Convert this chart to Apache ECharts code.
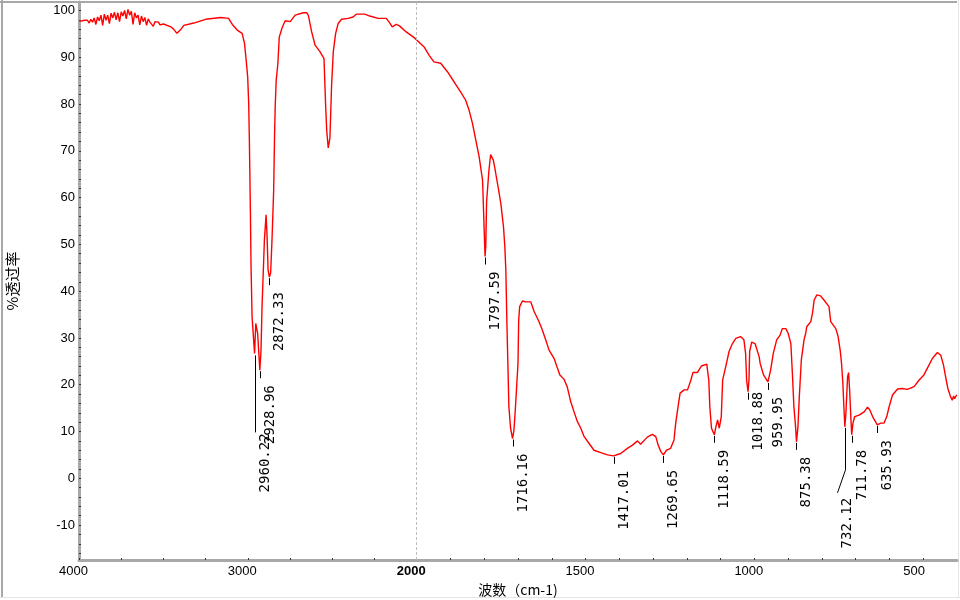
<!DOCTYPE html>
<html>
<head>
<meta charset="utf-8">
<title>IR</title>
<script src="https://cdn.jsdelivr.net/npm/echarts@6/dist/echarts.min.js"></script>
<style>
  html, body { margin: 0; padding: 0; background: #fff; }
  #chart { width: 960px; height: 600px; }
</style>
</head>
<body>
<div id="chart"></div>
<script>
// 光谱数据：波数 / 透过率
const waveNumbers = [
  4000, 3985, 3970, 3960, 3950, 3940, 3930, 3920, 3910, 3900, 3890, 3880, 3870, 3860, 3850, 3840,
  3830, 3820, 3810, 3800, 3790, 3780, 3770, 3760, 3750, 3740, 3730, 3720, 3710, 3700, 3690, 3680,
  3670, 3660, 3650, 3640, 3630, 3620, 3610, 3600, 3590, 3580, 3570, 3560, 3550, 3540, 3530, 3520,
  3510, 3500, 3456, 3440, 3420, 3400, 3379, 3320, 3250, 3161, 3114, 3092, 3063, 3034, 3020, 3010,
  3001, 2995, 2991, 2985, 2981, 2975, 2960.22, 2953, 2942, 2928.96, 2922, 2916, 2902, 2892, 2886, 2880,
  2872.33, 2865, 2857, 2847, 2842, 2838, 2832, 2822, 2814, 2798, 2779, 2749, 2720, 2671, 2651, 2642,
  2622, 2602, 2573, 2549, 2539, 2533, 2524, 2514, 2504, 2494, 2480, 2465, 2445, 2406, 2377, 2357,
  2308, 2278, 2229, 2180, 2161, 2145, 2121, 2102, 2062, 2023, 2000,
  1978, 1963, 1949, 1929, 1909, 1889, 1870, 1855, 1845, 1835, 1825, 1815, 1805, 1803, 1800, 1797.59,
  1795.5, 1793, 1786, 1781, 1773, 1766, 1759, 1751, 1743, 1739, 1736, 1733, 1730, 1727, 1722, 1716.16,
  1712, 1708, 1704, 1700, 1698, 1695, 1687, 1677, 1662, 1652, 1638, 1628, 1618, 1608, 1593, 1583,
  1576, 1564, 1554, 1544, 1534, 1524, 1514, 1504, 1490, 1475, 1455, 1435, 1417.01, 1396, 1376, 1361,
  1346, 1337, 1317, 1302, 1292, 1285, 1277, 1269.65, 1260, 1248, 1238, 1233, 1226, 1220, 1208, 1198,
  1188, 1182, 1169, 1157, 1141, 1135, 1132, 1127, 1118.59, 1114, 1109, 1104, 1098, 1094, 1085, 1075,
  1065, 1055, 1041, 1031, 1026, 1023, 1018.88, 1016, 1014, 1008, 998, 986, 983, 973, 959.95, 952,
  944, 934, 924, 917, 907, 900, 892, 887, 883, 878, 875.38, 871, 867, 861, 853, 848,
  845, 833, 828, 823, 815, 804, 794, 779, 774, 759, 752, 746, 742, 738, 735, 732.12,
  729, 724, 721, 718, 714, 711.78, 708, 703, 690, 675, 665, 658, 650, 635.93, 626, 616,
  608, 601, 591, 576, 562, 547, 527, 512, 498, 488, 473, 458, 448, 440, 433, 427,
  419, 414, 410, 407, 403, 400
];
const transmittance = [
  97.8, 97.7, 97.9, 97.6, 97.9, 97.3, 98.1, 97.5, 98.4, 97.0, 98.6, 97.8, 99.0, 96.8, 99.2, 97.9,
  99.0, 97.2, 99.4, 98.4, 99.6, 98.0, 99.5, 97.6, 99.7, 98.8, 100.0, 98.2, 100.2, 99.0, 99.8, 97.0,
  99.5, 98.4, 99.0, 96.9, 98.8, 97.6, 98.5, 96.8, 98.2, 97.5, 97.9, 96.6, 97.6, 97.2, 97.5, 96.9,
  97.2, 97.1, 96.5, 96.0, 95.1, 95.8, 96.8, 97.3, 98.1, 98.5, 98.3, 97.0, 95.8, 95.1, 93.0, 89.4,
  85.8, 80.2, 72.3, 57.3, 45.2, 34.5, 26.7, 33.1, 31.0, 23.1, 27.4, 36.6, 50.9, 56.3, 51.6, 44.5,
  43.0, 43.9, 50.9, 61.6, 72.9, 79.4, 85.1, 88.7, 94.3, 96.2, 97.8, 97.6, 99.0, 99.5, 99.5, 99.0,
  95.4, 92.6, 91.2, 89.7, 79.4, 74.4, 70.6, 72.7, 84.0, 91.2, 95.1, 97.2, 98.1, 98.3, 98.6, 99.2,
  99.2, 98.8, 98.3, 98.3, 97.4, 96.5, 97.0, 96.7, 95.4, 94.4, 93.7,
  92.2, 90.4, 89.0, 88.7, 86.9, 84.7, 82.6, 80.8, 78.7, 75.9, 72.3, 68.7, 63.7, 59.5, 52.7, 47.4,
  49.5, 59.1, 65.9, 69.2, 68.0, 65.2, 62.3, 58.8, 53.8, 49.5, 44.5, 33.5, 24.6, 15.3, 10.7, 8.5,
  10.3, 14.6, 19.6, 24.6, 33.8, 36.7, 37.9, 37.7, 37.7, 35.6, 33.5, 31.7, 29.6, 27.4, 25.6, 23.5,
  22.1, 21.2, 19.5, 16.4, 14.2, 12.1, 10.7, 8.9, 7.5, 6.0, 5.5, 5.0, 4.8, 5.3, 6.4, 7.1,
  8.0, 7.3, 8.8, 9.4, 8.9, 7.1, 5.7, 5.0, 6.0, 6.4, 8.2, 11.8, 15.3, 18.2, 18.9, 18.9,
  21.0, 22.6, 22.6, 24.0, 24.4, 21.0, 15.3, 10.7, 9.3, 11.0, 12.5, 10.7, 13.2, 21.0, 23.8, 27.1,
  28.8, 29.9, 30.3, 29.6, 26.7, 21.0, 18.5, 21.0, 27.1, 29.1, 28.8, 26.0, 24.6, 22.1, 20.6, 23.1,
  26.7, 29.6, 30.6, 32.0, 32.0, 31.0, 28.8, 21.7, 15.3, 11.0, 7.8, 11.0, 17.4, 25.3, 29.6, 31.0,
  32.4, 33.5, 35.3, 38.1, 39.2, 39.0, 38.1, 36.7, 33.5, 32.0, 30.3, 27.4, 24.6, 20.3, 15.3, 11.0,
  13.9, 21.7, 22.6, 18.9, 12.5, 9.3, 11.8, 13.2, 13.5, 14.2, 15.2, 14.6, 13.2, 11.4, 11.8, 11.8,
  13.2, 15.3, 17.8, 19.1, 19.2, 19.0, 19.6, 21.0, 22.1, 23.5, 25.6, 26.9, 26.3, 24.2, 21.4, 19.2,
  17.4, 16.7, 17.6, 17.0, 17.6, 17.8
];

// 峰位标注
const peakWaveNumbers = [2960.22, 2928.96, 2872.33, 1797.59, 1716.16, 1417.01, 1269.65,
  1118.59, 1018.88, 959.95, 875.38, 732.12, 711.78, 635.93];
const peakTransmittance = [26.7, 23.1, 43.0, 47.4, 8.5, 4.8, 5.0, 9.3, 18.5, 20.6, 7.8, 11.0, 9.3, 11.4];

const xTickLabels = [4000, 3000, 2000, 1500, 1000, 500];
const yTickLabels = [-10, 0, 10, 20, 30, 40, 50, 60, 70, 80, 90, 100];

// 2000 以上的波数压缩一半显示
const toAxis = w => (w <= 2000 ? w : 2000 + (w - 2000) / 2);
const fromAxis = u => (u <= 2000 ? u : 2000 + (u - 2000) * 2);

const xTicks = [];
for (let w = 4000; w > 2000; w -= 250) xTicks.push(toAxis(w));
for (let w = 2000; w >= 500; w -= 100) xTicks.push(w);
const yTicks = [];
for (let v = -16; v <= 100; v += 2) yTicks.push(v);

// 个别标注的下移/折线
const labelLayout = {
  '2960.22': { drop: 80 },
  '732.12': { drop: 71, bend: 43, shift: -8 },
  '1018.88': { drop: 0 }
};

const chart = echarts.init(document.getElementById('chart'));

const axisGray = '#a8a8a8';
const labelFont = '"Liberation Sans", Arial, sans-serif';

chart.setOption({
  animation: false,
  grid: { left: 79, right: 3, top: 2, bottom: 40, containLabel: false, outerBoundsMode: 'none' },
  xAxis: {
    type: 'value',
    inverse: true,
    min: 400,
    max: 3000,
    name: '波数（cm-1)',
    nameLocation: 'middle',
    nameGap: 19,
    nameTextStyle: { fontFamily: '"Noto Sans CJK SC"', fontSize: 14, color: '#000' },
    axisLine: { onZero: false, lineStyle: { color: axisGray, width: 3 } },
    axisTick: { customValues: xTicks, inside: true, length: 2, lineStyle: { color: '#333' } },
    splitLine: { show: false },
    axisLabel: {
      customValues: xTickLabels.map(toAxis),
      color: '#000',
      fontFamily: labelFont,
      fontSize: 13,
      margin: 5,
      align: 'center',
      formatter: u => {
        const w = Math.round(fromAxis(u));
        return w === 2000 ? '{b|' + w + '}' : '{a|' + w + '}';
      },
      rich: {
        a: { width: 40, align: 'left', fontFamily: labelFont, fontSize: 13, color: '#000' },
        b: { width: 40, align: 'left', fontFamily: labelFont, fontSize: 13, color: '#000', fontWeight: 'bold' }
      }
    }
  },
  yAxis: {
    type: 'value',
    min: -17.46,
    max: 101.8,
    name: '%透过率',
    nameLocation: 'middle',
    nameGap: 59,
    nameTextStyle: { fontFamily: '"Noto Sans CJK SC"', fontSize: 15, color: '#000' },
    axisLine: { show: true, onZero: false, lineStyle: { color: axisGray, width: 3 } },
    axisTick: { customValues: yTicks, inside: true, length: 2, lineStyle: { color: '#333' } },
    splitLine: { show: false },
    axisLabel: {
      customValues: yTickLabels,
      color: '#000',
      fontFamily: labelFont,
      fontSize: 13,
      margin: 4
    }
  },
  graphic: [
    { type: 'rect', shape: { x: 0, y: 1, width: 957, height: 2 }, style: { fill: axisGray }, silent: true },
    { type: 'rect', shape: { x: 1, y: 0, width: 2, height: 597 }, style: { fill: axisGray }, silent: true },
    { type: 'rect', shape: { x: 0, y: 597, width: 960, height: 1 }, style: { fill: '#e4e4e4' }, silent: true },
    { type: 'rect', shape: { x: 958, y: 0, width: 1, height: 598 }, style: { fill: '#e4e4e4' }, silent: true }
  ],
  series: [
    {
      type: 'line',
      data: waveNumbers.map((w, i) => [toAxis(w), transmittance[i]]),
      showSymbol: false,
      symbol: 'none',
      lineStyle: { color: '#ff0000', width: 1.4 },
      silent: true,
      markLine: {
        silent: true,
        symbol: ['none', 'none'],
        label: { show: false },
        lineStyle: { type: [3, 2], color: '#bdbdbd', width: 1 },
        data: [{ xAxis: 2000 }]
      }
    },
    {
      type: 'custom',
      silent: true,
      z: 5,
      data: peakWaveNumbers.map((w, i) => [toAxis(w), peakTransmittance[i]]),
      renderItem: (params, api) => {
        const p = api.coord([api.value(0), api.value(1)]);
        const x = Math.round(p[0]) + 0.5;
        const y = p[1];
        const text = peakWaveNumbers[params.dataIndex].toFixed(2);
        const lay = labelLayout[text] || {};
        const drop = lay.drop != null ? lay.drop : 15;
        const shift = lay.shift || 0;
        let points;
        if (lay.bend) {
          points = [[x, y + 1], [x, y + lay.bend], [x + shift, y + drop - 5]];
        } else if (drop > 15) {
          points = [[x, y + 2], [x, y + drop - 1]];
        } else {
          points = [[x, y + 1], [x, y + 8]];
        }
        return {
          type: 'group',
          children: [
            { type: 'polyline', shape: { points }, style: { stroke: '#000', fill: null, lineWidth: 1 } },
            {
              type: 'text',
              x: x + shift + 10,
              y: y + drop,
              rotation: Math.PI / 2,
              style: {
                text,
                font: '14px "DejaVu Sans Mono", monospace',
                fill: '#000',
                align: 'right',
                verticalAlign: 'middle'
              }
            }
          ]
        };
      }
    }
  ]
});
</script>
</body>
</html>
